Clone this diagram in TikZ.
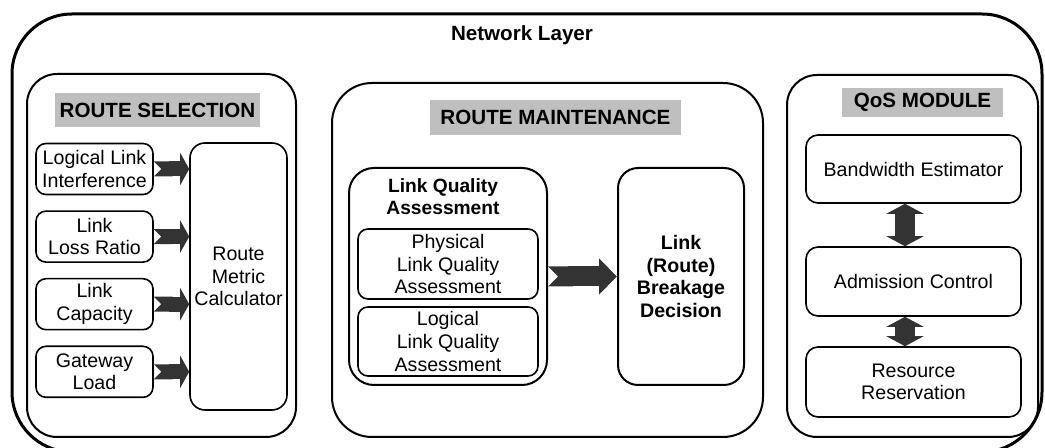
\documentclass[tikz,border=0pt]{standalone}
\usepackage{fontspec}
\setmainfont{Liberation Sans}
\usetikzlibrary{arrows.meta,positioning}

\colorlet{headgray}{black!25}
\colorlet{arrowgray}{black!80}

\tikzset{
  panel/.style={draw, line width=1pt, rounded corners=15pt},
  box/.style={draw, line width=0.8pt, rounded corners=5pt, align=center, inner sep=1pt,
    font=\fontsize{9.8}{11.3}\selectfont},
  heading/.style={fill=headgray, inner sep=0pt, font=\bfseries\fontsize{10.3}{12}\selectfont},
  fatarrow/.style={arrowgray, line width=7.5pt,
    {Triangle Cap[reversed]}-{Triangle[length=4.5pt,width=16pt]}},
  bigarrow/.style={arrowgray, line width=10pt,
    {Triangle Cap[reversed]}-{Triangle[length=9pt,width=17.5pt]}},
  twoarrow/.style={arrowgray, line width=10pt,
    {Triangle[length=5pt,width=18.5pt]}-{Triangle[length=5pt,width=18.5pt]}}
}

\begin{document}
\begin{tikzpicture}[x=0.5pt, y=-0.5pt]
    \useasboundingbox (0,0) rectangle (1045,448);
    \node(netlayer)[draw, line width=1.5pt, rounded corners=30pt, minimum width=515pt, minimum height=219pt] at (527,233) {};
    \node(nltitle)[font=\bfseries\fontsize{10.3}{12}\selectfont] at (522,35) {Network Layer};

    \node(sel)[panel, minimum width=134.5pt, minimum height=181.5pt] at (161.5,255.5) {};
    \node(selhead)[heading, minimum width=102.5pt, minimum height=17pt] at (157.5,110) {ROUTE SELECTION};
    \node(lli)[box, minimum width=58.5pt, minimum height=25.5pt] at (94.5,169) {Logical Link\\Interference};
    \node(llr)[box, minimum width=58.5pt, minimum height=25.5pt, below=7.5pt of lli] {Link\\Loss Ratio};
    \node(lcap)[box, minimum width=58.5pt, minimum height=25.5pt, below=7.5pt of llr] {Link\\Capacity};
    \node(gwl)[box, minimum width=58.5pt, minimum height=25.5pt, below=7.5pt of lcap] {Gateway\\Load};
    \node(rmc)[box, rounded corners=7.5pt, minimum width=48.5pt, minimum height=133.5pt] at (238.5,276.5) {Route\\Metric\\Calculator};
    \draw[fatarrow](lli.east) -- (lli.east -| rmc.west);
    \draw[fatarrow](llr.east) -- (llr.east -| rmc.west);
    \draw[fatarrow](lcap.east) -- (lcap.east -| rmc.west);
    \draw[fatarrow](gwl.east) -- (gwl.east -| rmc.west);

    \node(maint)[panel, rounded corners=20pt, minimum width=215.5pt, minimum height=177pt] at (547.5,260) {};
    \node(mainthead)[heading, minimum width=125.5pt, minimum height=17.5pt] at (555.5,117.5) {ROUTE MAINTENANCE};
    \node(lqa)[box, line width=1pt, rounded corners=12.5pt, minimum width=99pt, minimum height=108.5pt] at (448,276.5) {};
    \node(lqatitle)[align=center, font=\bfseries\fontsize{9.6}{11}\selectfont] at (443,197) {Link Quality\\Assessment};
    \node(plqa)[box, minimum width=90pt, minimum height=35pt] at (448,264) {Physical\\Link Quality\\Assessment};
    \node(llqa)[box, minimum width=90pt, minimum height=34.5pt] at (448,341.5) {Logical\\Link Quality\\Assessment};
    \node(lbd)[box, line width=1pt, rounded corners=10pt, minimum width=63pt, minimum height=108.5pt, font=\bfseries\fontsize{9.8}{11.4}\selectfont] at (681,276.5) {Link\\(Route)\\Breakage\\Decision};
    \draw[bigarrow](lqa.east) -- (lbd.west);

    \node(qos)[panel, minimum width=125.5pt, minimum height=181pt] at (912.5,256) {};
    \node(qoshead)[heading, minimum width=80.5pt, minimum height=14.5pt] at (922.5,102.5) {QoS MODULE};
    \node(bwe)[box, rounded corners=6pt, minimum width=107.5pt, minimum height=34pt] at (913.5,169) {Bandwidth Estimator};
    \node(adc)[box, rounded corners=6pt, minimum width=107.5pt, minimum height=34.5pt] at (913.5,281.5) {Admission Control};
    \node(rres)[box, rounded corners=6pt, minimum width=107.5pt, minimum height=35pt] at (913.5,382) {Resource\\Reservation};
    \coordinate(qx) at (905,0);
    \draw[twoarrow](bwe.south -| qx) -- (adc.north -| qx);
    \draw[twoarrow](adc.south -| qx) -- (rres.north -| qx);
\end{tikzpicture}
\end{document}
